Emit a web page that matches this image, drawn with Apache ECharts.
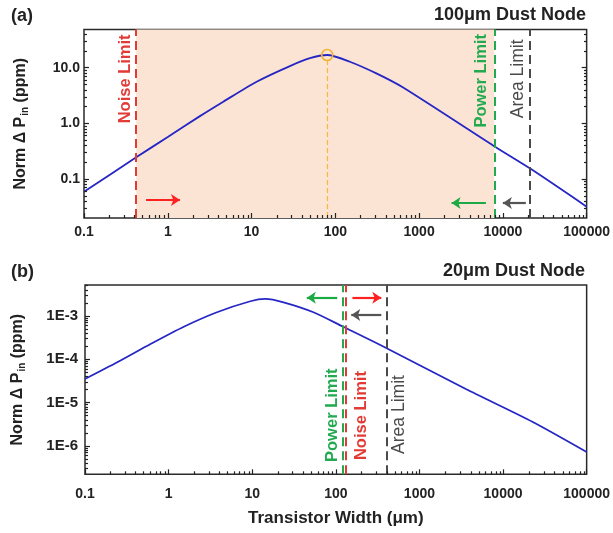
<!DOCTYPE html>
<html>
<head>
<meta charset="utf-8">
<script src="https://cdn.jsdelivr.net/npm/echarts@6/dist/echarts.min.js"></script>
<style>
html,body{margin:0;padding:0;background:#fff;}
#chart{width:613px;height:533px;}
</style>
</head>
<body>
<div id="chart"></div>
<script>
// (a) 100um dust node : transistor width (um) -> norm dPin (ppm)
var widthA = [0.1, 0.42, 1, 2.42, 4.6, 11.5, 28.7, 49.8, 80, 149, 309, 645, 7870, 21000, 100000];
var pinA   = [0.059, 0.246, 0.57, 1.35, 2.45, 5.6, 10.7, 14.8, 16.9, 12.8, 7.9, 4.4, 0.39, 0.156, 0.032];
// (b) 20um dust node
var widthB = [0.1, 0.243, 0.608, 1.52, 3.79, 9.5, 14.3, 23.7, 54, 121, 411, 3590, 22400, 100000];
var pinB   = [3.5e-5, 8.5e-5, 2.25e-4, 5.65e-4, 1.22e-3, 2.19e-3, 2.48e-3, 2.07e-3, 1.22e-3, 5.7e-4, 1.78e-4, 2.05e-5, 3.6e-6, 7.2e-7];

// axis ranges / tick labels
var xRange  = [0.1, 100000];
var yRangeA = [0.02, 48.5];
var yRangeB = [2.2e-7, 5.2e-3];
var xTicks  = [0.1, 1, 10, 100, 1000, 10000, 100000];
var yTicksA = [0.1, 1, 10];
var yTicksB = [1e-6, 1e-5, 1e-4, 1e-3];

// limits: noise, power, area (um)
var limitNames = ['Noise Limit', 'Power Limit', 'Area Limit'];
var limitsA = [0.42, 7870, 21000];
var limitsB = [132, 121, 411];
var peakA = [80, 16.9];
// label anchors [x, y] for each limit
var textPosA = [[0.31, 6.3], [5570, 5.8], [15100, 6.3]];
var textPosB = [[200, 5.0e-6], [91, 5.1e-6], [575, 5.3e-6]];
// arrows [fromX, toX, y]
var arrowsA = [[0.55, 1.4, 0.042], [6270, 2440, 0.037], [18800, 10000, 0.037]];
var arrowsB = [[158, 350, 2.65e-3], [104, 45, 2.65e-3], [350, 153, 1.05e-3]];

var limitColors = ['#e23b36', '#23aa50', '#4a4a4a'];
var arrowColors = ['#ff2020', '#1caa44', '#555555'];
var FONT = '"Liberation Sans", Arial, sans-serif';
var INK = '#222';
var lg = Math.log10;

function minorTicks(range) {
	var lo = lg(range[0]), hi = lg(range[1]), out = [];
	for (var d = Math.floor(lo); d <= Math.ceil(hi); d++) {
		for (var k = 2; k <= 9; k++) {
			var v = d + lg(k);
			if (v > lo && v < hi) out.push(v);
		}
	}
	return out;
}

function axis(gridIndex, range, ticks, tickLen, pos, label) {
	return {
		type: 'value', gridIndex: gridIndex, position: pos, z: 6,
		min: lg(range[0]), max: lg(range[1]),
		splitLine: {show: false},
		axisLine: {show: false, onZero: false},
		axisTick: {show: true, inside: true, length: tickLen, customValues: ticks, lineStyle: {color: INK, width: 1.2}},
		axisLabel: label ? label : {show: false}
	};
}

function lbl(values, margin, size, fmt) {
	return {show: true, customValues: values, margin: margin, fontSize: size, fontWeight: 'bold',
		color: INK, fontFamily: FONT, formatter: fmt};
}

var fmtX = function (v) { var p = Math.round(v); return p < 0 ? Math.pow(10, p).toFixed(-p) : String(Math.pow(10, p)); };
var fmtYA = function (v) { return Math.pow(10, Math.round(v)).toFixed(1); };
var fmtYB = function (v) { return '1E' + Math.round(v); };

var gridA = {left: 84, right: 26, top: 29.5, height: 188.5};
var gridB = {left: 85, right: 25, top: 285, height: 189.3};

var yName = 'Norm \u0394 P{sub|in} (ppm)';
var nameStyle = {fontSize: 16, fontWeight: 'bold', color: INK, fontFamily: FONT,
	rich: {sub: {fontSize: 10, fontWeight: 'bold', color: INK, fontFamily: FONT, padding: [8, 0, 0, 1]}}};

var xAxes = [
	axis(0, xRange, xTicks.map(lg), 5, 'bottom', lbl(xTicks.map(lg), 7, 14, fmtX)),
	axis(1, xRange, minorTicks(xRange), 3, 'bottom'),
	axis(2, xRange, xTicks.map(lg), 5, 'bottom', lbl(xTicks.map(lg), 13, 14, fmtX)),
	axis(3, xRange, minorTicks(xRange), 3, 'bottom')
];
xAxes[2].name = 'Transistor Width (\u03bcm)';
xAxes[2].nameLocation = 'middle';
xAxes[2].nameGap = 36;
xAxes[2].nameTextStyle = {fontSize: 17, fontWeight: 'bold', color: INK, fontFamily: FONT};

var yAxes = [
	axis(0, yRangeA, yTicksA.map(lg), 5, 'left', lbl(yTicksA.map(lg), 4, 14, fmtYA)),
	axis(0, yRangeA, yTicksA.map(lg), 5, 'right'),
	axis(1, yRangeA, minorTicks(yRangeA), 3, 'left'),
	axis(1, yRangeA, minorTicks(yRangeA), 3, 'right'),
	axis(2, yRangeB, yTicksB.map(lg), 5, 'left', lbl(yTicksB.map(lg), 7, 15, fmtYB)),
	axis(3, yRangeB, minorTicks(yRangeB), 3, 'left')
];
yAxes[0].name = yName; yAxes[0].nameLocation = 'middle'; yAxes[0].nameGap = 54; yAxes[0].nameTextStyle = nameStyle;
yAxes[4].name = yName; yAxes[4].nameLocation = 'middle'; yAxes[4].nameGap = 58; yAxes[4].nameTextStyle = nameStyle;

function pts(xs, ys) {
	return xs.map(function (x, i) { return [lg(x), lg(ys[i])]; });
}

function limitLines(limits) {
	return limits.map(function (v, i) {
		return {xAxis: lg(v), lineStyle: {color: limitColors[i], type: [9, 5], width: 2}};
	});
}

function limitTexts(pos) {
	return pos.map(function (p, i) {
		return {
			coord: [lg(p[0]), lg(p[1])], symbol: 'rect', symbolSize: 1,
			itemStyle: {color: 'rgba(0,0,0,0)'},
			label: {show: true, position: 'inside', rotate: 90, formatter: limitNames[i],
				color: limitColors[i], fontSize: i == 2 ? 17.5 : 16.5, fontWeight: i == 2 ? 'normal' : 'bold', fontFamily: FONT}
		};
	});
}

function arrowLines(arrows) {
	return arrows.map(function (a, i) {
		return [{coord: [lg(a[0]), lg(a[2])], lineStyle: {color: arrowColors[i], width: 2.2, type: 'solid'}},
			{coord: [lg(a[1]), lg(a[2])]}];
	});
}

var markPointsA = limitTexts(textPosA);
markPointsA.push({
	coord: [lg(peakA[0]), lg(peakA[1])], symbol: 'circle', symbolSize: 11,
	itemStyle: {color: 'rgba(0,0,0,0)', borderColor: '#f2b233', borderWidth: 1.6},
	label: {show: false}
});
var markLinesA = limitLines(limitsA);
markLinesA.push([
	{coord: [lg(peakA[0]), lg(peakA[1]) - 0.09], lineStyle: {color: '#f5b83a', type: [5, 3], width: 1.2}},
	{coord: [lg(peakA[0]), lg(yRangeA[0])]}
]);

var curveStyle = {color: '#2626c4', width: 1.8};

var option = {
	animation: false,
	backgroundColor: '#fff',
	title: [
		{text: '(a)', left: 11, top: 7, padding: 0, textStyle: {fontSize: 18, fontWeight: 'bold', color: INK, fontFamily: FONT}},
		{text: '100\u03bcm Dust Node', right: 27, top: 6, padding: 0, textStyle: {fontSize: 18, fontWeight: 'bold', color: INK, fontFamily: FONT}},
		{text: '(b)', left: 11, top: 263, padding: 0, textStyle: {fontSize: 18, fontWeight: 'bold', color: INK, fontFamily: FONT}},
		{text: '20\u03bcm Dust Node', right: 28, top: 262, padding: 0, textStyle: {fontSize: 18, fontWeight: 'bold', color: INK, fontFamily: FONT}}
	],
	grid: [
		Object.assign({show: true, borderColor: '#2a2a2a', borderWidth: 1.5}, gridA),
		Object.assign({show: false}, gridA),
		Object.assign({show: true, borderColor: '#2a2a2a', borderWidth: 1.5}, gridB),
		Object.assign({show: false}, gridB)
	],
	xAxis: xAxes,
	yAxis: yAxes,
	series: [
		{
			name: 'a', type: 'line', xAxisIndex: 0, yAxisIndex: 0,
			data: pts(widthA, pinA), smooth: 0.25, showSymbol: false, symbol: 'none',
			lineStyle: curveStyle, z: 3,
			markArea: {silent: true, itemStyle: {color: '#fbe4d4'},
				data: [[{xAxis: lg(limitsA[0])}, {xAxis: lg(limitsA[1])}]]},
			markLine: {silent: true, symbol: 'none', label: {show: false}, data: markLinesA},
			markPoint: {silent: true, data: markPointsA}
		},
		{
			name: 'aArrows', type: 'line', xAxisIndex: 0, yAxisIndex: 0, data: [],
			markLine: {silent: true, symbol: ['none', 'arrow'], symbolSize: 9, label: {show: false}, data: arrowLines(arrowsA)}
		},
		{
			name: 'b', type: 'line', xAxisIndex: 2, yAxisIndex: 4,
			data: pts(widthB, pinB), smooth: 0.25, showSymbol: false, symbol: 'none',
			lineStyle: curveStyle, z: 3,
			markLine: {silent: true, symbol: 'none', label: {show: false}, data: limitLines(limitsB)},
			markPoint: {silent: true, data: limitTexts(textPosB)}
		},
		{
			name: 'bArrows', type: 'line', xAxisIndex: 2, yAxisIndex: 4, data: [],
			markLine: {silent: true, symbol: ['none', 'arrow'], symbolSize: 9, label: {show: false}, data: arrowLines(arrowsB)}
		}
	]
};

var myChart = echarts.init(document.getElementById('chart'));
myChart.setOption(option);
window.onresize = myChart.resize;
</script>
</body>
</html>
